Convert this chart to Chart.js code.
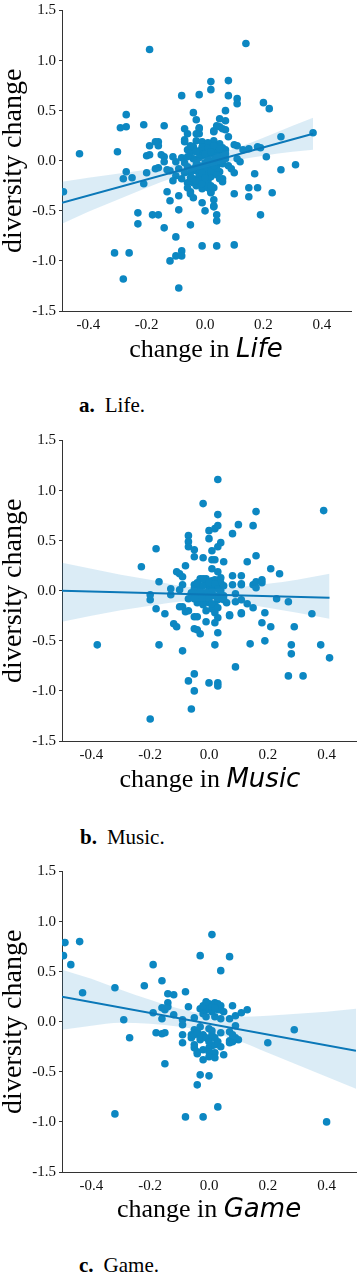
<!DOCTYPE html>
<html>
<head>
<meta charset="utf-8">
<script src="https://cdn.jsdelivr.net/npm/chart.js@4.4.1/dist/chart.umd.min.js"></script>
<style>
  body { margin: 0; background: #fff; }
  #page { position: relative; width: 360px; height: 1277px; overflow: hidden; }
  .panel { position: absolute; left: 0; width: 360px; height: 335px; }
  .xlabel {
    position: absolute; width: 360px; text-align: center; white-space: nowrap;
    font-family: 'Liberation Serif', serif; font-size: 26px; line-height: 26px; color: #000;
  }
  .xlabel i { font-family: 'DejaVu Sans', sans-serif; font-style: italic; }
  .caption {
    position: absolute; white-space: nowrap;
    font-family: 'Liberation Serif', serif; font-size: 21px; line-height: 21px; color: #000;
  }
  .caption b { margin-right: 10px; }
</style>
</head>
<body>
<div id="page">
  <canvas id="chartLife" class="panel" width="360" height="335" style="top:0px"></canvas>
  <div class="xlabel" style="left:26px; top:335px">change in <i>Life</i></div>
  <div class="caption" style="left:79px; top:395px"><b>a.</b>Life.</div>

  <canvas id="chartMusic" class="panel" width="360" height="335" style="top:430px"></canvas>
  <div class="xlabel" style="left:30px; top:765px">change in <i>Music</i></div>
  <div class="caption" style="left:80px; top:827px"><b>b.</b>Music.</div>

  <canvas id="chartGame" class="panel" width="360" height="335" style="top:861px"></canvas>
  <div class="xlabel" style="left:29px; top:1195px">change in <i>Game</i></div>
  <div class="caption" style="left:79px; top:1255px"><b>c.</b>Game.</div>
</div>
<script>
// tick labels
const xTicks = [-0.4, -0.2, 0, 0.2, 0.4];
const yTicks = [-1.5, -1.0, -0.5, 0, 0.5, 1.0, 1.5];

// a. Life
const lifePoints = [
  [-0.19, 1.11], [0.14, 1.17],
  [0.02, 0.79], [0.08, 0.80], [0.02, 0.71], [-0.08, 0.65], [-0.02, 0.66], [0.08, 0.65], [0.11, 0.62], [0.11, 0.57],
  [0.20, 0.58], [0.22, 0.52], [0.07, 0.50], [-0.04, 0.48], [-0.27, 0.46], [-0.03, 0.41], [0.05, 0.42], [0.07, 0.40],
  [-0.29, 0.33], [-0.27, 0.34], [-0.21, 0.36], [-0.14, 0.35], [-0.07, 0.32], [-0.02, 0.32], [-0.02, 0.27], [0.03, 0.30],
  [0.05, 0.34], [0.07, 0.31], [0.08, 0.24], [-0.06, 0.27], [-0.07, 0.21], [0.37, 0.28], [0.26, 0.24],
  [-0.16, 0.19], [-0.16, 0.15], [-0.19, 0.15], [-0.30, 0.09], [-0.43, 0.07], [-0.20, 0.05], [-0.19, 0.06], [-0.14, 0.04],
  [0.19, 0.13], [0.21, 0.04], [0.31, -0.04], [0.26, -0.09], [0.15, 0.12], [0.13, 0.11], [0.11, 0.15], [0.17, -0.13],
  [-0.27, -0.11], [-0.28, -0.18], [-0.25, -0.17], [-0.21, -0.23], [-0.20, -0.12], [-0.16, -0.07], [-0.485, -0.31],
  [0.15, -0.27], [0.18, -0.27], [0.15, -0.36], [0.23, -0.32], [0.10, -0.33], [-0.13, -0.31], [-0.12, -0.40], [-0.09, -0.35],
  [-0.05, -0.33], [-0.04, -0.37], [-0.01, -0.42], [0.00, -0.50], [0.02, -0.31], [0.03, -0.39], [0.03, -0.45], [0.04, -0.54],
  [-0.09, -0.49], [-0.23, -0.52], [-0.18, -0.54], [-0.16, -0.54], [0.19, -0.54],
  [-0.23, -0.63], [-0.14, -0.67], [-0.10, -0.76], [-0.05, -0.64], [0.04, -0.60], [0.03, -0.46],
  [-0.31, -0.92], [-0.26, -0.92], [-0.28, -1.18], [-0.12, -1.00], [-0.10, -0.95], [-0.08, -0.90], [-0.08, -0.95],
  [-0.09, -1.27], [-0.01, -0.85], [0.04, -0.85], [0.10, -0.84],
  [-0.02, 0.33], [0.04, 0.35], [0.03, 0.29], [0.06, 0.32], [-0.03, 0.27], [-0.07, 0.19], [-0.03, 0.20], [-0.01, 0.19],
  [0.03, 0.20], [0.05, 0.17], [0.10, 0.16], [-0.17, 0.19], [-0.06, 0.11], [-0.15, 0.06], [-0.11, 0.04], [-0.10, -0.01],
  [-0.14, -0.01], [-0.17, -0.08], [-0.13, -0.09], [0.07, 0.11], [0.18, 0.14], [0.11, 0.02], [0.12, -0.01], [0.05, -0.11],
  [0.09, -0.08], [0.06, -0.18], [0.10, -0.12], [0.06, -0.21], [-0.05, -0.31], [0.03, -0.27], [0.02, -0.32],
  [-0.05, 0.08], [-0.04, 0.02], [-0.03, -0.04], [-0.02, 0.10], [-0.01, 0.05], [0.00, 0.12], [0.01, 0.08], [0.02, 0.14],
  [0.03, 0.06], [0.04, 0.10], [0.05, 0.03], [0.06, 0.08], [-0.06, -0.06], [-0.05, -0.12], [-0.04, -0.18], [-0.03, -0.10],
  [-0.02, -0.15], [-0.01, -0.08], [0.00, -0.02], [0.01, -0.12], [0.02, -0.06], [0.03, 0.00], [0.04, -0.04], [0.05, -0.02],
  [-0.04, -0.22], [-0.03, -0.25], [-0.02, -0.20], [-0.01, -0.18], [0.00, -0.24], [0.01, -0.20], [0.02, -0.16], [0.00, -0.14],
  [-0.01, -0.28], [0.01, 0.02], [0.02, -0.02], [0.03, -0.10], [-0.07, -0.02], [-0.08, 0.03], [-0.09, -0.08], [0.07, 0.02],
  [0.08, -0.05], [0.06, 0.13], [0.01, 0.18], [-0.04, 0.14], [-0.06, 0.04],
  [-0.12, -0.10], [-0.10, -0.15], [-0.08, -0.18], [-0.06, -0.22], [-0.07, -0.12], [-0.11, -0.20],
  [-0.05, 0.15], [-0.03, 0.09], [-0.01, 0.14], [0.01, 0.13], [0.03, 0.15], [0.05, 0.12], [0.07, 0.07], [0.06, -0.03],
  [0.04, -0.08], [0.02, -0.10], [0.00, -0.06], [-0.02, -0.05], [-0.04, -0.08], [-0.05, -0.17], [-0.03, -0.20],
  [-0.01, -0.23], [0.01, -0.27], [0.02, -0.25], [0.04, -0.14], [0.05, -0.18], [-0.06, -0.27], [-0.02, 0.03],
  [0.00, 0.07], [0.02, 0.09], [0.04, 0.05], [-0.03, 0.00], [0.01, -0.01], [0.03, -0.05], [-0.01, -0.12], [0.00, -0.17]
];
const lifeLineX = [-0.49, 0.37];
const lifeLineY = [-0.42, 0.27];
const lifeBandX = [-0.49, -0.4, -0.3, -0.2, -0.1, 0, 0.1, 0.2, 0.3, 0.37];
const lifeBandUpper = [-0.21, -0.17, -0.13, -0.09, -0.04, 0.03, 0.12, 0.23, 0.35, 0.43];
const lifeBandLower = [-0.63, -0.51, -0.39, -0.27, -0.16, -0.07, 0.00, 0.05, 0.09, 0.11];

// b. Music
const musicPoints = [
  [0.03, 1.11], [-0.02, 0.87], [0.03, 0.76], [0.10, 0.66], [0.15, 0.65], [0.16, 0.79], [0.39, 0.80], [0.00, 0.60],
  [0.02, 0.62], [0.03, 0.65], [-0.07, 0.55], [-0.07, 0.49], [-0.07, 0.44], [0.00, 0.52], [0.04, 0.48], [0.03, 0.44],
  [0.08, 0.57], [-0.05, 0.41], [-0.18, 0.42], [0.01, 0.40], [-0.05, 0.34], [-0.02, 0.33], [0.01, 0.31], [0.02, 0.31],
  [0.05, 0.29], [0.16, 0.35], [0.13, 0.29], [0.21, 0.22], [0.24, 0.17], [-0.23, 0.24], [-0.08, 0.25], [-0.10, 0.17],
  [-0.17, 0.09], [0.01, 0.22], [0.03, 0.19], [0.08, 0.15], [0.11, 0.15], [-0.13, 0.02], [-0.13, -0.04], [-0.09, 0.06],
  [-0.10, 0.01], [-0.05, 0.06], [-0.06, -0.03], [0.15, 0.06], [0.18, 0.08], [0.16, 0.03], [0.11, 0.06], [0.08, 0.06],
  [0.09, -0.03], [0.23, -0.08], [0.27, -0.11], [-0.20, -0.09], [-0.18, -0.18], [-0.15, -0.23], [-0.09, -0.16],
  [-0.08, -0.21], [-0.07, -0.20], [-0.05, -0.26], [-0.01, -0.31], [0.02, -0.32], [0.03, -0.27], [0.07, -0.24],
  [0.11, -0.23], [0.15, -0.17], [0.19, -0.22], [0.18, -0.32], [0.21, -0.36], [0.29, -0.36], [0.35, -0.23],
  [-0.12, -0.33], [-0.11, -0.36], [-0.05, -0.38], [-0.04, -0.39], [-0.03, -0.43], [0.03, -0.42],
  [-0.38, -0.54], [-0.17, -0.54], [-0.09, -0.60], [0.02, -0.54], [0.14, -0.53], [0.19, -0.50], [0.28, -0.54],
  [0.28, -0.63], [0.38, -0.54], [0.41, -0.67], [0.09, -0.76], [0.27, -0.85], [0.32, -0.85], [-0.05, -0.83],
  [-0.07, -0.90], [-0.05, -1.00], [0.00, -0.92], [0.03, -0.92], [0.03, -0.95], [-0.06, -1.18], [-0.20, -1.28],
  [-0.11, 0.19], [-0.09, 0.14], [-0.03, 0.12], [-0.01, 0.12], [0.02, 0.11], [0.04, 0.13], [0.16, 0.09], [0.18, 0.11],
  [-0.20, -0.04], [-0.10, -0.16], [-0.04, -0.26], [0.07, -0.25], [0.11, -0.22], [0.09, -0.11], [0.13, -0.13],
  [0.11, -0.09], [0.11, 0.07], [0.03, -0.09], [0.05, -0.09],
  [-0.05, 0.02], [-0.04, -0.04], [-0.03, 0.05], [-0.02, -0.02], [-0.01, 0.08], [0.00, 0.00], [0.01, -0.05], [0.02, 0.03],
  [0.03, -0.08], [0.04, 0.00], [-0.02, -0.10], [0.00, -0.12], [0.02, -0.14], [-0.04, -0.12], [0.01, 0.10], [-0.01, -0.06],
  [0.03, 0.06], [-0.03, -0.07], [0.00, 0.04], [0.05, -0.05], [0.06, -0.12], [-0.06, -0.02], [-0.07, -0.08], [0.01, -0.18],
  [-0.02, 0.12], [0.02, -0.22], [-0.01, -0.20], [0.04, 0.08],
  [-0.04, 0.08], [-0.02, 0.05], [0.00, 0.08], [0.02, 0.07], [0.03, 0.02], [0.01, 0.00], [-0.01, -0.02], [-0.03, -0.01],
  [0.00, -0.08], [0.02, -0.05], [0.04, -0.03], [-0.02, -0.14], [0.01, -0.13], [0.03, -0.17], [-0.05, -0.08], [0.05, 0.05]
];
const musicLineX = [-0.5, 0.41];
const musicLineY = [0.00, -0.07];
const musicBandX = [-0.5, -0.4, -0.3, -0.2, -0.1, 0, 0.1, 0.2, 0.3, 0.41];
const musicBandUpper = [0.28, 0.22, 0.16, 0.11, 0.05, 0.02, 0.035, 0.07, 0.11, 0.17];
const musicBandLower = [-0.31, -0.25, -0.195, -0.15, -0.11, -0.10, -0.125, -0.17, -0.22, -0.28];

// c. Game
const gamePoints = [
  [0.01, 0.87], [-0.03, 0.66], [0.07, 0.65], [0.04, 0.51], [-0.19, 0.57], [-0.16, 0.41], [-0.495, 0.66], [-0.49, 0.79],
  [-0.44, 0.80], [-0.47, 0.57], [-0.43, 0.29], [-0.32, 0.34], [-0.22, 0.36], [-0.08, 0.30], [-0.14, 0.28], [-0.12, 0.27],
  [-0.14, 0.19], [-0.16, 0.14], [-0.16, 0.03], [-0.19, 0.09], [-0.15, 0.12], [-0.12, 0.07], [-0.29, 0.02], [-0.27, -0.16],
  [-0.18, -0.11], [-0.16, -0.12], [-0.15, -0.11], [-0.07, 0.15], [-0.09, -0.03], [-0.09, -0.13], [-0.09, -0.21],
  [-0.05, 0.04], [-0.09, 0.02],
  [0.08, 0.16], [0.13, 0.12], [0.11, 0.09], [0.09, 0.06], [0.29, -0.08], [0.20, -0.21], [0.09, -0.16], [0.07, -0.19],
  [0.08, -0.20], [0.09, -0.04], [0.04, 0.03], [0.07, 0.03], [0.04, -0.11], [0.07, -0.10],
  [-0.06, -0.16], [-0.05, -0.23], [-0.04, -0.30], [-0.02, -0.13], [-0.03, -0.18], [0.00, -0.18], [0.01, -0.24],
  [0.02, -0.31], [0.05, -0.33], [-0.15, -0.42], [-0.05, -0.26], [-0.04, -0.32], [-0.02, -0.38], [0.00, -0.26],
  [0.00, -0.30], [0.02, -0.36], [0.02, -0.23], [0.07, -0.21],
  [-0.03, -0.53], [0.00, -0.54], [-0.04, -0.63], [0.03, -0.85], [-0.32, -0.92], [-0.08, -0.95], [-0.02, -0.95], [0.40, -1.00],
  [-0.03, 0.13], [-0.01, 0.12], [0.00, 0.18], [0.02, 0.19], [0.03, 0.18], [0.00, 0.13], [0.01, 0.10], [0.03, 0.12],
  [0.04, 0.12], [-0.02, 0.08], [-0.01, 0.05], [0.02, 0.05], [-0.14, 0.15], [-0.03, -0.05], [0.00, -0.07], [0.01, -0.09],
  [-0.06, -0.13], [-0.05, -0.13], [-0.03, -0.15], [-0.01, -0.16], [0.00, -0.20], [0.02, -0.16], [0.08, -0.13],
  [0.10, -0.18], [0.08, -0.18], [0.03, -0.20], [0.00, -0.35], [-0.05, -0.08],
  [0.01, 0.15], [-0.02, 0.16], [0.04, 0.16], [0.02, 0.14], [-0.01, 0.20], [0.05, 0.10], [-0.04, -0.10], [0.01, -0.13],
  [0.04, -0.25], [-0.02, -0.28]
];
const gameLineX = [-0.5, 0.5];
const gameLineY = [0.25, -0.29];
const gameBandX = [-0.5, -0.4, -0.3, -0.2, -0.1, 0, 0.1, 0.2, 0.3, 0.4, 0.5];
const gameBandUpper = [0.52, 0.43, 0.32, 0.22, 0.13, 0.07, 0.05, 0.06, 0.08, 0.10, 0.13];
const gameBandLower = [-0.08, -0.04, -0.01, -0.02, -0.05, -0.10, -0.19, -0.31, -0.43, -0.55, -0.67];

const dotColor = '#0c87c2';
const lineColor = '#0b78b8';
const bandColor = 'rgba(40, 140, 200, 0.17)';
const axisColor = '#333';
const tickFont = { family: "'Liberation Serif', serif", size: 15, lineHeight: 1 };

function toXY(xs, ys) {
  return xs.map((x, i) => ({ x: x, y: ys[i] }));
}

function drawPanel(id, p) {
  const ctx = document.getElementById(id).getContext('2d');
  return new Chart(ctx, {
    type: 'scatter',
    data: {
      datasets: [
        {
          type: 'line',
          data: toXY(p.bandX, p.bandUpper),
          borderColor: 'transparent',
          borderWidth: 0,
          pointRadius: 0,
          cubicInterpolationMode: 'monotone',
          backgroundColor: bandColor,
          fill: '+1',
          order: 2
        },
        {
          type: 'line',
          data: toXY(p.bandX, p.bandLower),
          borderColor: 'transparent',
          borderWidth: 0,
          pointRadius: 0,
          cubicInterpolationMode: 'monotone',
          fill: false,
          order: 2
        },
        {
          type: 'line',
          data: toXY(p.lineX, p.lineY),
          borderColor: lineColor,
          borderWidth: 2,
          pointRadius: 0,
          fill: false,
          order: 1
        },
        {
          data: p.points.map(d => ({ x: d[0], y: d[1] })),
          backgroundColor: dotColor,
          borderWidth: 0,
          pointRadius: 3.8,
          order: 3
        }
      ]
    },
    options: {
      responsive: false,
      animation: false,
      devicePixelRatio: 1,
      layout: { padding: { top: 7, right: p.rightPad, left: 0, bottom: 0 } },
      plugins: {
        legend: { display: false },
        tooltip: { enabled: false }
      },
      scales: {
        x: {
          type: 'linear',
          min: p.xMin,
          max: p.xMax,
          afterBuildTicks: s => { s.ticks = xTicks.map(v => ({ value: v })); },
          afterFit: s => { s.height = 24; },
          grid: { display: false, drawTicks: false },
          border: { display: true, color: axisColor, width: 1 },
          ticks: {
            padding: 7,
            color: '#111',
            font: tickFont,
            maxRotation: 0,
            callback: v => Number(v).toFixed(1)
          }
        },
        y: {
          type: 'linear',
          min: -1.5,
          max: 1.5,
          afterBuildTicks: s => { s.ticks = yTicks.map(v => ({ value: v })); },
          afterFit: s => { s.width = 62; },
          grid: { display: true, drawOnChartArea: false, drawTicks: true, tickLength: 3, color: axisColor },
          border: { display: true, color: axisColor, width: 1 },
          ticks: {
            padding: 3,
            color: '#111',
            font: tickFont,
            callback: v => Number(v).toFixed(1)
          },
          title: {
            display: true,
            text: 'diversity change',
            color: '#000',
            padding: { top: 0, bottom: 0 },
            font: { family: "'Liberation Serif', serif", size: 28, lineHeight: 1 }
          }
        }
      }
    }
  });
}

drawPanel('chartLife', {
  points: lifePoints, lineX: lifeLineX, lineY: lifeLineY,
  bandX: lifeBandX, bandUpper: lifeBandUpper, bandLower: lifeBandLower,
  xMin: -0.49, xMax: 0.5, rightPad: 9
});
drawPanel('chartMusic', {
  points: musicPoints, lineX: musicLineX, lineY: musicLineY,
  bandX: musicBandX, bandUpper: musicBandUpper, bandLower: musicBandLower,
  xMin: -0.5, xMax: 0.5, rightPad: 2
});
drawPanel('chartGame', {
  points: gamePoints, lineX: gameLineX, lineY: gameLineY,
  bandX: gameBandX, bandUpper: gameBandUpper, bandLower: gameBandLower,
  xMin: -0.5, xMax: 0.5, rightPad: 3
});
</script>
</body>
</html>
